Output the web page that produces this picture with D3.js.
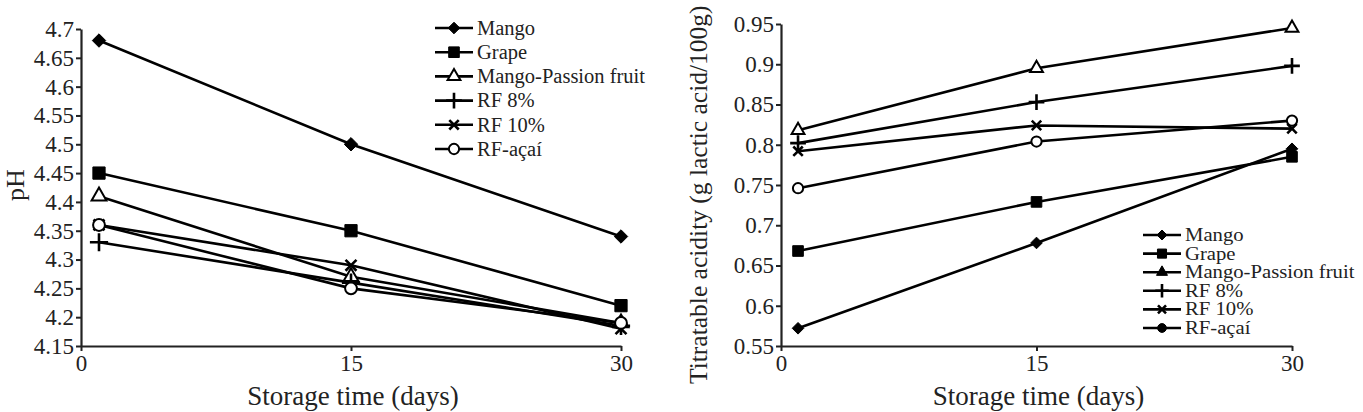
<!DOCTYPE html>
<html>
<head>
<meta charset="utf-8">
<script src="https://cdn.jsdelivr.net/npm/d3@7"></script>
<style>
  body { margin: 0; background: #fff; }
  svg { display: block; }
  text { font-family: "Liberation Serif", "Times New Roman", serif; fill: #222; }
</style>
</head>
<body>
<svg id="chart" width="1363" height="412"></svg>
<script>
// Data
let days = [1, 15, 30];
let seriesNames = ["Mango", "Grape", "Mango-Passion fruit", "RF 8%", "RF 10%", "RF-açaí"];

let phMango = [4.68, 4.50, 4.34];
let phGrape = [4.45, 4.35, 4.22];
let phMangoPassion = [4.41, 4.27, 4.19];
let phRF8 = [4.33, 4.26, 4.185];
let phRF10 = [4.36, 4.29, 4.18];
let phRFAcai = [4.36, 4.25, 4.19];

let taMango = [0.572, 0.678, 0.795];
let taGrape = [0.668, 0.729, 0.785];
let taMangoPassion = [0.818, 0.895, 0.945];
let taRF8 = [0.802, 0.853, 0.898];
let taRF10 = [0.792, 0.824, 0.820];
let taRFAcai = [0.746, 0.804, 0.830];

let phTicks = [4.15, 4.2, 4.25, 4.3, 4.35, 4.4, 4.45, 4.5, 4.55, 4.6, 4.65, 4.7];
let taTicks = [0.55, 0.6, 0.65, 0.7, 0.75, 0.8, 0.85, 0.9, 0.95];
let dayTicks = [0, 15, 30];

let phSeries = [phMango, phGrape, phMangoPassion, phRF8, phRF10, phRFAcai];
let taSeries = [taMango, taGrape, taMangoPassion, taRF8, taRF10, taRFAcai];

// square diamond (equal diagonals), closer to the spreadsheet marker than d3's
let symbolRhomb = {
  draw: function(context, size) {
    let r = Math.sqrt(size / 2);
    context.moveTo(0, -r);
    context.lineTo(r, 0);
    context.lineTo(0, r);
    context.lineTo(-r, 0);
    context.closePath();
  }
};

// marker style per series: symbol type and whether it is filled
let markers = [
  { type: symbolRhomb, fill: true },
  { type: d3.symbolSquare, fill: true },
  { type: d3.symbolTriangle, fill: false },
  { type: d3.symbolPlus, fill: null },
  { type: d3.symbolTimes, fill: null },
  { type: d3.symbolCircle, fill: false }
];
let markerSize = [90, 150, 95, 110, 80, 110];

let svg = d3.select("#chart");

function styleMarker(sel, i, scale, forceFill) {
  let m = markers[i];
  sel.attr("d", d3.symbol().type(m.type).size(markerSize[i] * scale)());
  if (m.fill === null) {
    sel.style("fill", "none").style("stroke", "#000").style("stroke-width", 2.6);
  } else if (m.fill || forceFill) {
    sel.style("fill", "#000").style("stroke", "#000").style("stroke-width", 1);
  } else {
    sel.style("fill", "#fff").style("stroke", "#000").style("stroke-width", 2);
  }
}

function drawPanel(opts) {
  let x = d3.scaleLinear().domain([0, 30]).range(opts.xRange);
  let y = d3.scaleLinear().domain(opts.yDomain).range(opts.yRange);
  let g = svg.append("g");

  // y axis
  let yAxis = g.append("g")
      .attr("transform", "translate(" + opts.xRange[0] + ",0)")
      .call(d3.axisLeft(y).tickValues(opts.yTicks).tickSize(5).tickSizeOuter(0).tickPadding(2)
        .tickFormat(d3.format("")));
  // x axis
  let xAxis = g.append("g")
      .attr("transform", "translate(0," + opts.yRange[0] + ")")
      .call(d3.axisBottom(x).tickValues(dayTicks).tickSize(5).tickSizeOuter(0).tickPadding(4)
        .tickFormat(d3.format("")));

  [yAxis, xAxis].forEach(function(a) {
    a.attr("font-family", "Liberation Serif").attr("font-size", 23);
    a.select(".domain").style("stroke", "#222").style("stroke-width", 2.2);
    a.selectAll(".tick line").style("stroke", "#222").style("stroke-width", 2);
    a.selectAll(".tick text").style("fill", "#222");
  });

  // axis titles
  g.append("text")
      .attr("x", x(15) + 2)
      .attr("y", 405)
      .attr("text-anchor", "middle")
      .style("font-size", "27px")
      .text("Storage time (days)");

  g.append("text")
      .attr("transform", "translate(" + opts.yLabelX + "," + opts.yLabelY + ") rotate(-90)")
      .attr("text-anchor", opts.yLabelAnchor)
      .style("font-size", opts.yLabelFont)
      .text(opts.yLabel);

  // lines
  let line = d3.line()
      .x(function(d, i) { return x(days[i]); })
      .y(function(d) { return y(d); });

  opts.series.forEach(function(s) {
    g.append("path")
        .datum(s)
        .attr("d", line)
        .style("fill", "none")
        .style("stroke", "#000")
        .style("stroke-width", 2.6);
  });

  // markers
  opts.series.forEach(function(s, si) {
    g.selectAll(null)
        .data(s)
        .enter().append("path")
        .attr("transform", function(d, i) { return "translate(" + x(days[i]) + "," + y(d) + ")"; })
        .each(function() { styleMarker(d3.select(this), si, opts.markerScale, false); });
  });

  // legend
  let lg = g.append("g");
  seriesNames.forEach(function(name, i) {
    let row = lg.append("g")
        .attr("transform", "translate(" + opts.legendX + "," + (opts.legendY + i * opts.legendStep) + ")");
    row.append("line")
        .attr("x1", 0).attr("x2", 38)
        .style("stroke", "#000").style("stroke-width", 2.6);
    row.append("path")
        .attr("transform", "translate(19,0)")
        .each(function() { styleMarker(d3.select(this), i, opts.legendMarkerScale, opts.legendFill); });
    row.append("text")
        .attr("transform", "translate(42,0) scale(" + opts.legendStretch + ",1)")
        .attr("dy", "0.33em")
        .style("font-size", opts.legendFont)
        .text(name);
  });
}

// pH panel
drawPanel({
  xRange: [81, 621],
  yDomain: [4.15, 4.7],
  yRange: [346, 29],
  yTicks: phTicks,
  series: phSeries,
  markerScale: 1,
  yLabel: "pH",
  yLabelX: 24,
  yLabelY: 185,
  yLabelAnchor: "middle",
  yLabelFont: "26px",
  legendX: 435,
  legendY: 28,
  legendStep: 24.2,
  legendFont: "20.5px",
  legendStretch: 1,
  legendMarkerScale: 0.75,
  legendFill: false
});

// titratable acidity panel
drawPanel({
  xRange: [781, 1292],
  yDomain: [0.55, 0.95],
  yRange: [346, 24],
  yTicks: taTicks,
  series: taSeries,
  markerScale: 0.75,
  yLabel: "Titratable acidity (g lactic acid/100g)",
  yLabelX: 707,
  yLabelY: 384,
  yLabelAnchor: "start",
  yLabelFont: "25.5px",
  legendX: 1143,
  legendY: 235,
  legendStep: 18.6,
  legendFont: "18px",
  legendStretch: 1.15,
  legendMarkerScale: 0.55,
  legendFill: true
});
</script>
</body>
</html>
